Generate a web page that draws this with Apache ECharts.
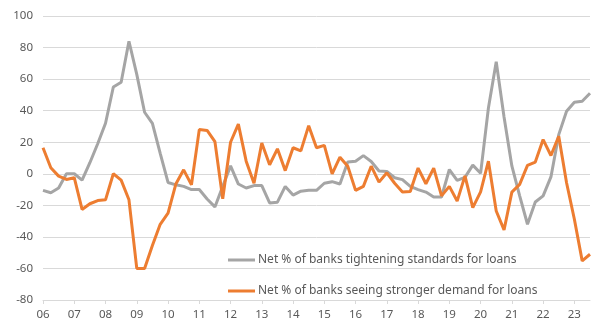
<!DOCTYPE html>
<html><head><meta charset="utf-8">
<script src="https://cdn.jsdelivr.net/npm/echarts@6/dist/echarts.min.js"></script>
<style>html,body{margin:0;padding:0;background:#fff}#c{width:612px;height:333px}</style>
</head><body><div id="c"></div>
<script>
const years = ['06','07','08','09','10','11','12','13','14','15','16','17','18','19','20','21','22','23'];
const quarters = [];
years.forEach(y => { for (let q = 1; q <= 4; q++) quarters.push(y + 'Q' + q); });
const categories = quarters.slice(0, 71);

const tighteningName = 'Net % of banks tightening standards for loans';
const demandName = 'Net % of banks seeing stronger demand for loans';

const tightening = [-10.5,-12,-9,0,0,-4,7,19,32,55,58,84,63,39,32,13,-5.5,-7,-8,-10,-10,-16,-21,-8,5,-6.5,-9,-7.5,-7.5,-18.5,-18,-8,-13.5,-11,-10.5,-10.5,-6,-5,-6.5,7.5,8,11.5,7.8,1.8,1.5,-2.5,-3.7,-8,-10,-11.6,-14.7,-14.7,2.7,-4.2,-2.3,5.5,0.3,41.7,71,36,5,-14,-32,-17.9,-14,-2,24.8,39.6,45.3,46,51];
const demand = [16.5,3.8,-1.5,-3.6,-2.5,-22.6,-19,-17,-16.5,0,-4,-16.5,-60,-60,-45.5,-32,-25,-6.5,2.5,-7,28,27.5,20.4,-15.8,20,31.5,8,-6,19.5,5.7,15.8,2,16.5,14.5,30.5,16.5,18,0,10.5,4.8,-10.5,-8,4.8,-5.3,0.6,-6,-11.5,-11.2,3.6,-6.3,3.6,-14,-8,-17.3,-1.3,-21.5,-11.5,8,-23.6,-35.6,-11.6,-6.7,5.3,7.4,21.7,11.6,23.8,-5.7,-28.8,-55.2,-51];

const yTicks = {min:-80, max:100, interval:20};
const font = 'Noto Sans';
const txt = '#595959';

const chart = echarts.init(document.getElementById('c'), null, {renderer:'canvas'});
chart.setOption({
  animation:false,
  textStyle:{fontFamily:font},
  grid:{left:43, right:22, top:16, bottom:33, containLabel:false},
  legend:{
    orient:'vertical', left:223, top:249, itemWidth:27, itemHeight:3, itemGap:19,
    icon:'rect',
    textStyle:{color:txt, fontSize:12, fontFamily:font, padding:[0,0,0,-2]},
    data:[tighteningName, demandName]
  },
  xAxis:[{
    type:'category', data:categories, boundaryGap:false,
    axisLine:{show:false}, axisTick:{show:false}, splitLine:{show:false},
    axisLabel:{interval:3, color:txt, fontSize:11.5, margin:9, formatter:v=>v.slice(0,2)}
  },{
    type:'category', data:categories, boundaryGap:false, position:'bottom',
    axisLine:{show:true, onZero:true, lineStyle:{color:'#d9d9d9', width:1}},
    axisTick:{show:true, interval:3, length:4, lineStyle:{color:'#d9d9d9'}},
    axisLabel:{show:false}, splitLine:{show:false}
  }],
  yAxis:{
    type:'value', min:yTicks.min, max:yTicks.max, interval:yTicks.interval,
    axisLine:{show:false}, axisTick:{show:false},
    splitLine:{lineStyle:{color:'#d9d9d9', width:1}},
    axisLabel:{color:txt, fontSize:11.5, margin:10}
  },
  series:[
    {name:tighteningName, type:'line', data:tightening, symbol:'none', xAxisIndex:0,
     lineStyle:{color:'#A5A5A5', width:3}, itemStyle:{color:'#A5A5A5'}},
    {name:demandName, type:'line', data:demand, symbol:'none', xAxisIndex:0,
     lineStyle:{color:'#ED7D31', width:3}, itemStyle:{color:'#ED7D31'}}
  ]
});
</script></body></html>
